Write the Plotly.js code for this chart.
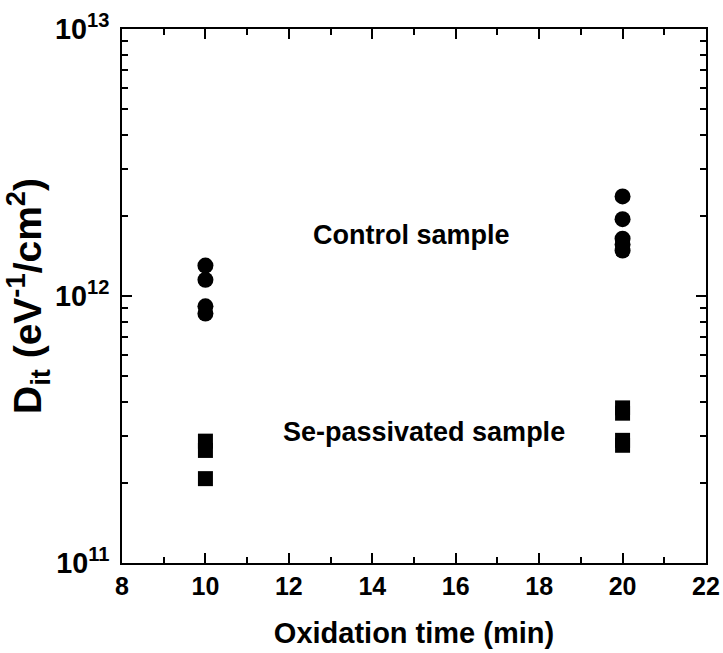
<!DOCTYPE html>
<html>
<head>
<meta charset="utf-8">
<script src="https://cdn.plot.ly/plotly-3.0.1.min.js"></script>
<style>html,body{margin:0;padding:0;background:#fff;}#chart{width:723px;height:653px;}</style>
</head>
<body>
<div id="chart"></div>
<script>
// Data
const controlTime = [10, 10, 10, 10, 20, 20, 20, 20, 20];
const controlDit  = [1.30e12, 1.15e12, 9.15e11, 8.6e11, 2.36e12, 1.94e12, 1.64e12, 1.56e12, 1.48e12];
const seTime = [10, 10, 10, 20, 20, 20, 20];
const seDit  = [2.86e11, 2.64e11, 2.07e11, 3.81e11, 3.64e11, 2.88e11, 2.76e11];
const xTickVals = [8, 10, 12, 14, 16, 18, 20, 22];
const labelControl = "Control sample";
const labelSe = "Se-passivated sample";
const labelControlPos = [14.93, 1.686e12];
const labelSePos = [15.24, 3.09e11];

const FONT = "Liberation Sans, Arial, sans-serif";

const traces = [
  {x: controlTime, y: controlDit, mode: "markers", type: "scatter",
   marker: {symbol: "circle", size: 16, color: "#000"}, showlegend: false},
  {x: seTime, y: seDit, mode: "markers", type: "scatter",
   marker: {symbol: "square", size: 15, color: "#000"}, showlegend: false}
];

const layout = {
  width: 723, height: 653,
  margin: {l: 122, r: 17, t: 29, b: 90},
  paper_bgcolor: "#fff", plot_bgcolor: "#fff",
  font: {family: FONT, color: "#000"},
  showlegend: false,
  xaxis: {
    range: [8, 22], tickvals: xTickVals,
    ticks: "inside", ticklen: 10, tickwidth: 2, tickcolor: "#000",
    showline: true, linewidth: 2, linecolor: "#000", mirror: "allticks",
    showgrid: false, zeroline: false,
    tickfont: {size: 25, family: FONT, weight: "bold"},
    minor: {dtick: 1, ticks: "inside", ticklen: 6, tickwidth: 2, tickcolor: "#000", showgrid: false},
    title: {text: "Oxidation time (min)", font: {size: 29, family: FONT, weight: "bold"}, standoff: 24}
  },
  yaxis: {
    type: "log", range: [11, 13], dtick: 1, exponentformat: "power",
    ticks: "inside", ticklen: 10, tickwidth: 2, tickcolor: "#000",
    showline: true, linewidth: 2, linecolor: "#000", mirror: "allticks",
    showgrid: false, zeroline: false, ticklabelstandoff: 6,
    tickfont: {size: 23, family: FONT, weight: "bold"},
    minor: {dtick: "D1", ticks: "inside", ticklen: 6, tickwidth: 2, tickcolor: "#000", showgrid: false},
    title: {text: "D<sub>it</sub> (eV<sup>-1</sup>/cm<sup>2</sup>)", font: {size: 39, family: FONT, weight: "bold"}, standoff: 8}
  },
  annotations: [
    {x: labelControlPos[0], y: Math.log10(labelControlPos[1]), xref: "x", yref: "y", text: labelControl, showarrow: false,
     font: {size: 27, family: FONT, weight: "bold"}},
    {x: labelSePos[0], y: Math.log10(labelSePos[1]), xref: "x", yref: "y", text: labelSe, showarrow: false,
     font: {size: 27, family: FONT, weight: "bold"}}
  ]
};

Plotly.newPlot("chart", traces, layout, {displayModeBar: false, staticPlot: true});
</script>
</body>
</html>
